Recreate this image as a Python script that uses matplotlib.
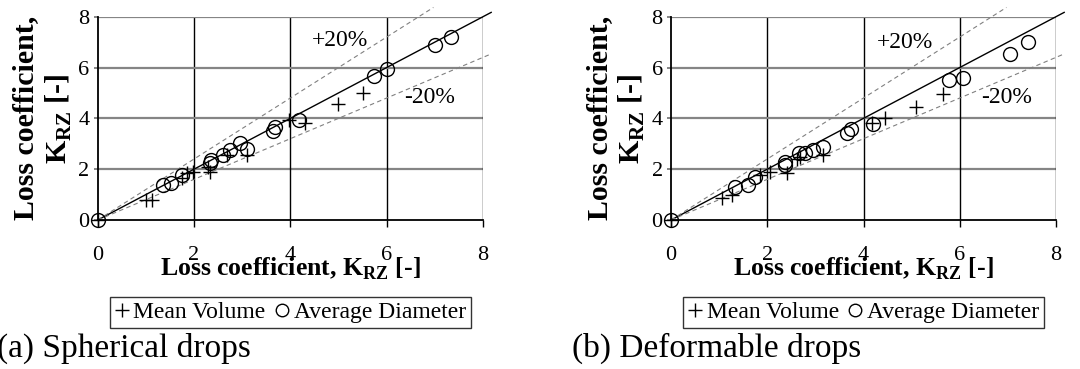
import matplotlib
matplotlib.use("Agg")
import matplotlib.pyplot as plt
from matplotlib.lines import Line2D

plt.rcParams['font.family'] = ['Liberation Serif', 'DejaVu Serif']
plt.rcParams['mathtext.fontset'] = 'custom'
plt.rcParams['mathtext.rm'] = 'Liberation Serif'
plt.rcParams['mathtext.bf'] = 'Liberation Serif:bold'

# (a) spherical drops: predicted vs measured loss coefficient
sph_vol_x = [0.0, 1.0, 1.12, 1.74, 1.85, 1.98, 2.3, 2.33, 2.68, 3.09, 3.98, 4.3, 4.98, 5.51]
sph_vol_y = [0.0, 0.79, 0.79, 1.64, 1.84, 1.9, 2.1, 1.9, 2.56, 2.56, 3.93, 3.83, 4.55, 4.98]
sph_dia_x = [0.0, 1.35, 1.53, 1.74, 2.33, 2.35, 2.6, 2.75, 2.95, 3.09, 3.63, 3.68, 4.18, 5.73, 6.01, 7.0, 7.34]
sph_dia_y = [0.0, 1.38, 1.44, 1.77, 2.23, 2.36, 2.56, 2.75, 3.02, 2.79, 3.51, 3.67, 3.93, 5.67, 5.94, 6.89, 7.19]

# (b) deformable drops
def_vol_x = [0.0, 1.05, 1.26, 1.85, 2.06, 2.4, 2.62, 2.68, 3.16, 4.17, 4.45, 5.1, 5.66]
def_vol_y = [0.0, 0.85, 0.98, 1.77, 1.9, 1.84, 2.4, 2.49, 2.56, 3.8, 4.0, 4.46, 4.96]
def_dia_x = [0.0, 1.33, 1.61, 1.75, 2.37, 2.37, 2.65, 2.78, 2.96, 3.15, 3.65, 3.75, 4.2, 5.78, 6.06, 7.04, 7.41]
def_dia_y = [0.0, 1.29, 1.38, 1.7, 2.16, 2.3, 2.62, 2.62, 2.75, 2.89, 3.41, 3.6, 3.78, 5.51, 5.6, 6.52, 7.02]

ticks = [0, 2, 4, 6, 8]

panels = [
    ((97.7, 483), sph_vol_x, sph_vol_y, sph_dia_x, sph_dia_y, (5.03, 7.05), (6.9, 4.84)),
    ((671, 1056), def_vol_x, def_vol_y, def_dia_x, def_dia_y, (4.86, 7.0), (6.98, 4.82)),
]

W, H = 1080, 369
fig = plt.figure(figsize=(W / 100, H / 100), dpi=100)

for (x0, x1), vx, vy, dx, dy, plus_pos, minus_pos in panels:
    ax = fig.add_axes([x0 / W, 1 - 220 / H, (x1 - x0) / W, (220 - 16.7) / H])
    ax.set_xlim(0, 8)
    ax.set_ylim(0, 8)
    ax.set_xticks(ticks)
    ax.set_yticks(ticks)

    # grid: black verticals, grey horizontals
    for t in ticks[1:]:
        ax.axvline(t, color='black', lw=1.0, zorder=1)
        ax.axhline(t, color='#858585', lw=1.6, zorder=1)
    for s in ['top', 'right']:
        ax.spines[s].set_visible(False)
    ax.spines['left'].set_linewidth(1.3)
    ax.spines['bottom'].set_linewidth(1.3)
    ax.tick_params(axis='x', direction='out', length=5, width=1.0, pad=14, labelsize=16)
    ax.tick_params(axis='y', direction='out', length=3, width=1.4, color='#858585', pad=3, labelsize=16)

    # parity line and +/-20 % bands
    ax.plot([0, 8.17], [0, 8.17], color='black', lw=1.0, clip_on=False, zorder=2)
    ax.plot([0, 6.97], [0, 1.2 * 6.97], color='#808080', lw=0.8, ls=(0, (4, 3)), clip_on=False, zorder=2)
    ax.plot([0, 8.15], [0, 0.8 * 8.15], color='#808080', lw=0.8, ls=(0, (4, 3)), clip_on=False, zorder=2)

    ax.plot(vx, vy, ls='none', marker='+', ms=10, mew=1.0, color='black', clip_on=False, zorder=3)
    ax.plot(dx, dy, ls='none', marker='o', ms=10, mew=1.0, mfc='none', mec='black', clip_on=False, zorder=3)

    ax.text(*plus_pos, '+20%', fontsize=17, ha='center', va='center')
    ax.text(*minus_pos, '-20%', fontsize=17, ha='center', va='center')

    ax.set_xlabel('Loss coefficient, K$_\\mathbf{RZ}$ [-]', fontsize=18.5, fontweight='bold', labelpad=-7)
    ax.set_ylabel('Loss coefficient,\nK$_\\mathbf{RZ}$ [-]', fontsize=21.5, fontweight='bold', labelpad=3,
                  linespacing=1.2)

    handles = [Line2D([], [], ls='none', marker='+', ms=10, mew=1.0, color='black'),
               Line2D([], [], ls='none', marker='o', ms=9, mew=1.0, mfc='none', mec='black')]
    leg = ax.legend(handles, ['Mean Volume', 'Average Diameter'], ncol=2, loc='center',
                    bbox_to_anchor=(0.5, 1 - (312.5 - 16.7) / (220 - 16.7)), fontsize=17,
                    frameon=True, fancybox=False, edgecolor='black', handlelength=0.6,
                    handletextpad=0.2, columnspacing=0.4, borderpad=0.2, borderaxespad=0)
    leg.get_frame().set_linewidth(1.0)

fig.text(-3 / W, 1 - 357 / H, '(a) Spherical drops', fontsize=24, va='baseline')
fig.text(572 / W, 1 - 357 / H, '(b) Deformable drops', fontsize=24, va='baseline')

fig.savefig('out.png', dpi=100)
